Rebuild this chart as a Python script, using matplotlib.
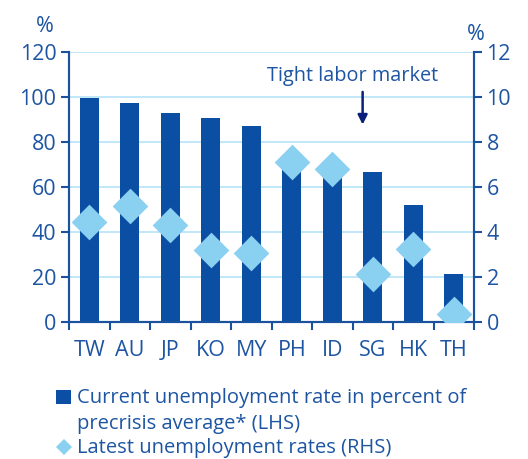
import matplotlib
matplotlib.use("Agg")
import matplotlib.pyplot as plt
from matplotlib.lines import Line2D
from matplotlib.patches import Rectangle
import numpy as np

categories = ["TW", "AU", "JP", "KO", "MY", "PH", "ID", "SG", "HK", "TH"]
bar_values = [99.5, 97.5, 93, 90.5, 87, 70, 67, 66.5, 52, 21.5]
diamond_values = [4.45, 5.15, 4.3, 3.2, 3.05, 7.1, 6.8, 2.15, 3.25, 0.35]
left_ticks = [0, 20, 40, 60, 80, 100, 120]
right_ticks = [0, 2, 4, 6, 8, 10, 12]
legend_labels = ["Current unemployment rate in percent of", "precrisis average* (LHS)",
                 "Latest unemployment rates (RHS)"]

BAR = "#0a4fa3"
DIA = "#8ad0f0"
TXT = "#1d55a2"
GRID = "#b5e3f7"
SPINE = "#1a52a0"

plt.rcParams['font.family'] = ['Open Sans', 'DejaVu Sans']

W, H = 528, 459
fig = plt.figure(figsize=(5.28, 4.59), dpi=100)
ax = fig.add_axes([69/W, 1-322/H, (474-69)/W, (322-52)/H])
ax2 = ax.twinx()

x = np.arange(len(categories))
ax.bar(x, bar_values, width=0.46, color=BAR, zorder=2)
ax.set_ylim(0, 120)
ax.set_xlim(-0.5, len(categories) - 0.5)
ax.set_yticks(left_ticks)
ax.yaxis.grid(True, color=GRID, linewidth=1.2, zorder=0)
ax.set_axisbelow(True)

ax2.scatter(x, diamond_values, marker="D", s=330, color=DIA, zorder=3, linewidths=0)
ax2.set_ylim(0, 12)
ax2.set_yticks(right_ticks)

FS = 15.5
ax.set_xticks(x)
ax.set_xticklabels(categories)
ax.set_xticks(np.arange(-0.5, len(categories)), minor=True)
ax.tick_params(axis='x', which='major', length=0, pad=13, labelsize=FS, labelcolor=TXT)
ax.tick_params(axis='x', which='minor', length=6, width=1.5, color=SPINE, direction='out')
ax.tick_params(axis='y', length=6, width=1.5, color=SPINE, labelsize=FS, labelcolor=TXT, pad=3)
ax2.tick_params(axis='y', length=6, width=1.5, color=SPINE, labelsize=FS, labelcolor=TXT, pad=3)

for a in (ax, ax2):
    a.spines["top"].set_visible(False)
    for s in ("left", "right", "bottom"):
        a.spines[s].set_color(SPINE)
        a.spines[s].set_linewidth(1.5)

fig.text(45/W, 1-26/H, "%", color=TXT, fontsize=FS, ha="center", va="center")
fig.text(476/W, 1-35/H, "%", color=TXT, fontsize=FS, ha="center", va="center")

ax2.annotate("", xy=(6.75, 8.65), xytext=(6.75, 10.35),
             arrowprops=dict(arrowstyle="-|>", color="#0a1f7a", lw=1.8, mutation_scale=14))
fig.text(353/W, 1-76/H, "Tight labor market", color=TXT, fontsize=14.3, ha="center", va="center")

# manual legend
fig.add_artist(Rectangle((56/W, 1-404/H), 15/W, 14/H, transform=fig.transFigure,
                         facecolor=BAR, edgecolor="none"))
fig.add_artist(Line2D([63.5/W], [1-447/H], transform=fig.transFigure, marker="D", markersize=8.5,
                      markerfacecolor=DIA, markeredgewidth=0, linestyle="none"))
for lab, yb in zip(legend_labels, [403.5, 428.5, 452.5]):
    fig.text(77/W, 1-yb/H, lab, color=TXT, fontsize=14.5, ha="left", va="baseline")

fig.savefig("out.png", dpi=100)
